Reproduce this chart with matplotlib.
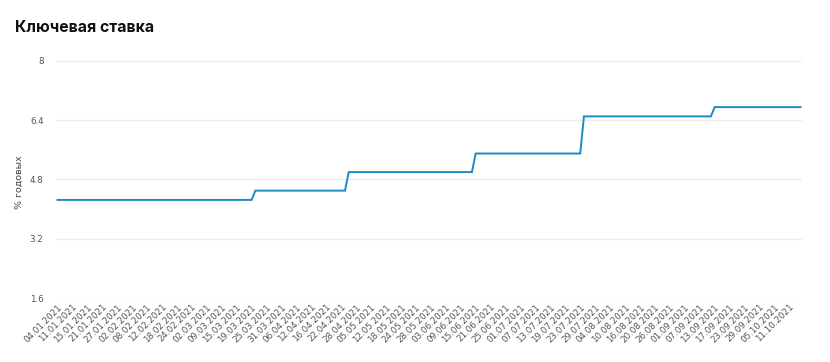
import matplotlib
matplotlib.use("Agg")
import matplotlib.pyplot as plt
import numpy as np

title = "Ключевая ставка"
y_label = "% годовых"

tick_labels = [
    "04.01.2021", "11.01.2021", "15.01.2021", "21.01.2021", "27.01.2021",
    "02.02.2021", "08.02.2021", "12.02.2021", "18.02.2021", "24.02.2021",
    "02.03.2021", "09.03.2021", "15.03.2021", "19.03.2021", "25.03.2021",
    "31.03.2021", "06.04.2021", "12.04.2021", "16.04.2021", "22.04.2021",
    "28.04.2021", "05.05.2021", "12.05.2021", "18.05.2021", "24.05.2021",
    "28.05.2021", "03.06.2021", "09.06.2021", "15.06.2021", "21.06.2021",
    "25.06.2021", "01.07.2021", "07.07.2021", "13.07.2021", "19.07.2021",
    "23.07.2021", "29.07.2021", "04.08.2021", "10.08.2021", "16.08.2021",
    "20.08.2021", "26.08.2021", "01.09.2021", "07.09.2021", "13.09.2021",
    "17.09.2021", "23.09.2021", "29.09.2021", "05.10.2021", "11.10.2021",
]
label_step = 4  # one label every 4th daily point

# Key rate levels and the number of daily observations at each level
rate_levels = [4.25, 4.5, 5.0, 5.5, 6.5, 6.75]
rate_days = [53, 25, 34, 29, 35, 24]

y_ticks = [1.6, 3.2, 4.8, 6.4, 8]

values = np.repeat(rate_levels, rate_days)
x = np.arange(len(values))

fig = plt.figure(figsize=(8.3, 3.62), dpi=100)
ax = fig.add_axes([56 / 830, 63.7 / 362, (802 - 56) / 830, (301.3 - 63.7) / 362])

ax.plot(x, values, color="#1c8bc4", linewidth=1.4, solid_joinstyle="miter")

ax.set_xlim(-0.4, len(values) - 0.6)
ax.set_ylim(1.6, 8)
ax.set_yticks(y_ticks)
ax.set_yticklabels([f"{v:g}" for v in y_ticks])
ax.yaxis.grid(True, color="#ececec", linewidth=0.9)
ax.set_axisbelow(True)

pos = np.arange(len(tick_labels)) * label_step
ax.set_xticks(pos)
ax.set_xticklabels(tick_labels, rotation=45, ha="right", va="top",
                   rotation_mode="anchor")

for s in ax.spines.values():
    s.set_visible(False)
ax.tick_params(axis="both", length=0, colors="#555555", labelsize=6.3)
ax.tick_params(axis="x", pad=3)
ax.tick_params(axis="y", pad=9)

fig.text(19 / 830, 180 / 362, y_label, rotation=90, ha="center", va="center",
         fontsize=6.8, color="#444444")
fig.text(15 / 830, 1 - 27 / 362, title, ha="left", va="center",
         fontsize=11.4, fontweight="bold", color="#111111", family="Inter")

fig.savefig("out.png", dpi=100)
